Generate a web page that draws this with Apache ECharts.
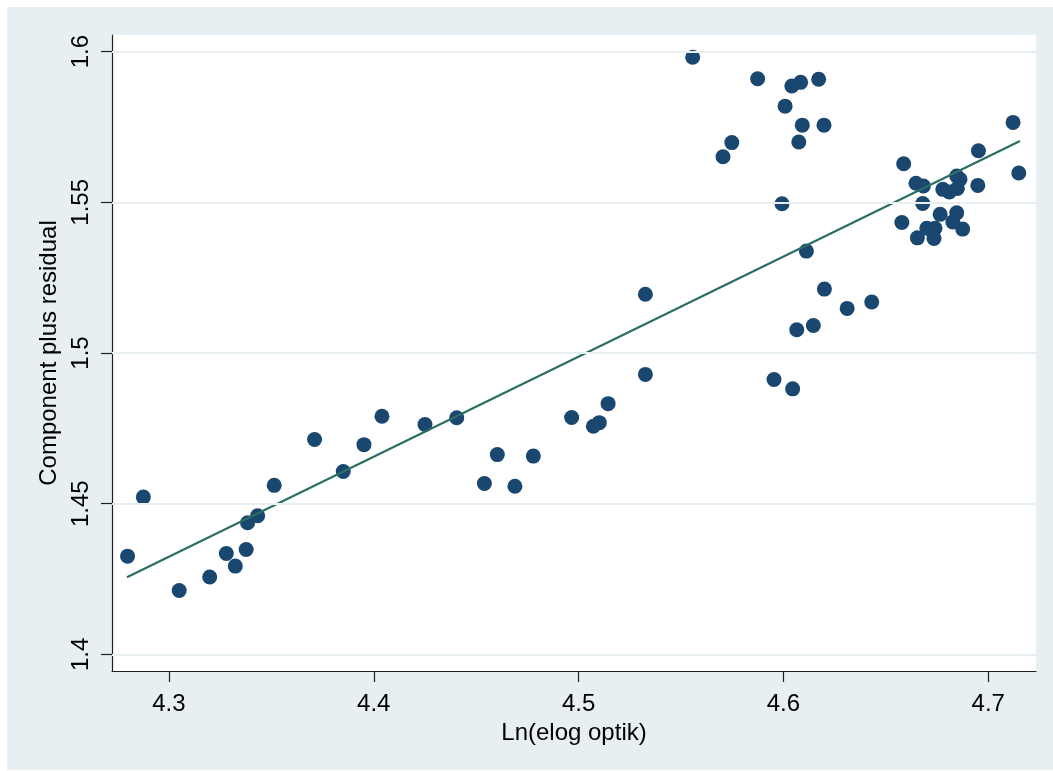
<!DOCTYPE html>
<html>
<head>
<meta charset="utf-8">
<script src="https://cdn.jsdelivr.net/npm/echarts@6/dist/echarts.min.js"></script>
<style>
  html, body { margin: 0; padding: 0; background: #ffffff; }
  #chart { width: 1053px; height: 771px; }
</style>
</head>
<body>
<div id="chart"></div>
<script>
// Component-plus-residual values against Ln(elog optik)
const xValues = [
  4.2798, 4.2875, 4.3050, 4.3199, 4.3280, 4.3324, 4.3377, 4.3384, 4.3433, 4.3514,
  4.3711, 4.3851, 4.3952, 4.4040, 4.4250, 4.4405, 4.4540, 4.4603, 4.4689, 4.4779,
  4.4966, 4.5072, 4.5101, 4.5144, 4.5326, 4.5326, 4.5557, 4.5874, 4.6041, 4.6084,
  4.6172, 4.6008, 4.6092, 4.6198, 4.6075, 4.5748, 4.5705, 4.5993, 4.6112, 4.6200,
  4.6311, 4.6431, 4.6146, 4.6065, 4.5954, 4.6045, 4.7121, 4.6952, 4.6587, 4.7149,
  4.6647, 4.6683, 4.6846, 4.6862, 4.6778, 4.6810, 4.6849, 4.6949, 4.6680, 4.6578,
  4.6765, 4.6846, 4.6827, 4.6700, 4.6740, 4.6875, 4.6654, 4.6735
];
const yValues = [
  1.4326, 1.4522, 1.4212, 1.4257, 1.4335, 1.4293, 1.4348, 1.4437, 1.4460, 1.4561,
  1.4713, 1.4607, 1.4696, 1.4790, 1.4763, 1.4785, 1.4567, 1.4663, 1.4558, 1.4658,
  1.4786, 1.4757, 1.4769, 1.4832, 1.4929, 1.5195, 1.5981, 1.5910, 1.5886, 1.5898,
  1.5908, 1.5819, 1.5756, 1.5756, 1.5700, 1.5698, 1.5651, 1.5495, 1.5338, 1.5212,
  1.5148, 1.5169, 1.5091, 1.5077, 1.4912, 1.4881, 1.5765, 1.5671, 1.5628, 1.5597,
  1.5563, 1.5554, 1.5587, 1.5576, 1.5543, 1.5534, 1.5546, 1.5556, 1.5496, 1.5433,
  1.5460, 1.5465, 1.5435, 1.5414, 1.5414, 1.5411, 1.5382, 1.5380
];

// Linear fit, drawn across the observed range
const fitX = [4.2795, 4.7155];
const fitY = [1.4256, 1.5703];

// Tick labels
const xTicks = [4.3, 4.4, 4.5, 4.6, 4.7];
const yTicks = [1.4, 1.45, 1.5, 1.55, 1.6];

const FONT = '"Liberation Sans", Arial, Helvetica, sans-serif';
const AXIS_COLOR = '#1f1f1f';
const GRID_COLOR = '#e8eff2';

const points = xValues.map((x, i) => [x, yValues[i]]);
const fitLine = fitX.map((x, i) => [x, fitY[i]]);

const chart = echarts.init(document.getElementById('chart'), null, { renderer: 'canvas' });

chart.setOption({
  backgroundColor: '#ffffff',
  animation: false,
  graphic: [{
    type: 'rect',
    left: 7, top: 7,
    shape: { width: 1046, height: 763 },
    style: { fill: GRID_COLOR },
    z: -10,
    silent: true
  }],
  grid: {
    left: 112, top: 35, right: 17, bottom: 100,
    show: true,
    backgroundColor: '#ffffff',
    borderWidth: 0
  },
  xAxis: {
    type: 'value',
    min: 4.2722, max: 4.7233,
    name: 'Ln(elog optik)',
    nameLocation: 'middle',
    nameGap: 48,
    nameTextStyle: { fontFamily: FONT, fontSize: 24, color: '#000' },
    axisLine: { show: true, onZero: false, lineStyle: { color: AXIS_COLOR, width: 1.2 } },
    axisTick: { show: true, inside: false, length: 11, customValues: xTicks, lineStyle: { color: AXIS_COLOR, width: 1.2 } },
    axisLabel: {
      customValues: xTicks,
      margin: 21,
      fontFamily: FONT, fontSize: 24, color: '#000',
      formatter: v => String(v)
    },
    splitLine: { show: false }
  },
  yAxis: {
    type: 'value',
    min: 1.3945, max: 1.6055,
    name: 'Component plus residual',
    nameLocation: 'middle',
    nameRotate: 90,
    nameGap: 48,
    nameTextStyle: { fontFamily: FONT, fontSize: 24, color: '#000' },
    axisLine: { show: true, onZero: false, lineStyle: { color: AXIS_COLOR, width: 1.2 } },
    axisTick: { show: true, inside: false, length: 11, customValues: yTicks, lineStyle: { color: AXIS_COLOR, width: 1.2 } },
    axisLabel: {
      customValues: yTicks,
      rotate: 90,
      margin: 19,
      fontFamily: FONT, fontSize: 24, color: '#000',
      formatter: v => String(v)
    },
    splitLine: { show: false }
  },
  series: [
    {
      // horizontal reference lines at each y tick
      type: 'line',
      data: [],
      silent: true,
      z: 1,
      markLine: {
        silent: true,
        symbol: ['none', 'none'],
        label: { show: false },
        lineStyle: { color: GRID_COLOR, width: 2, type: 'solid' },
        data: yTicks.map(v => ({ yAxis: v }))
      }
    },
    {
      type: 'scatter',
      data: points,
      symbol: 'circle',
      symbolSize: 15,
      itemStyle: { color: '#1a476f', opacity: 1 },
      z: 3
    },
    {
      type: 'line',
      data: fitLine,
      showSymbol: false,
      symbol: 'none',
      lineStyle: { color: '#2c6e63', width: 2.2 },
      z: 4
    }
  ]
});
</script>
</body>
</html>
